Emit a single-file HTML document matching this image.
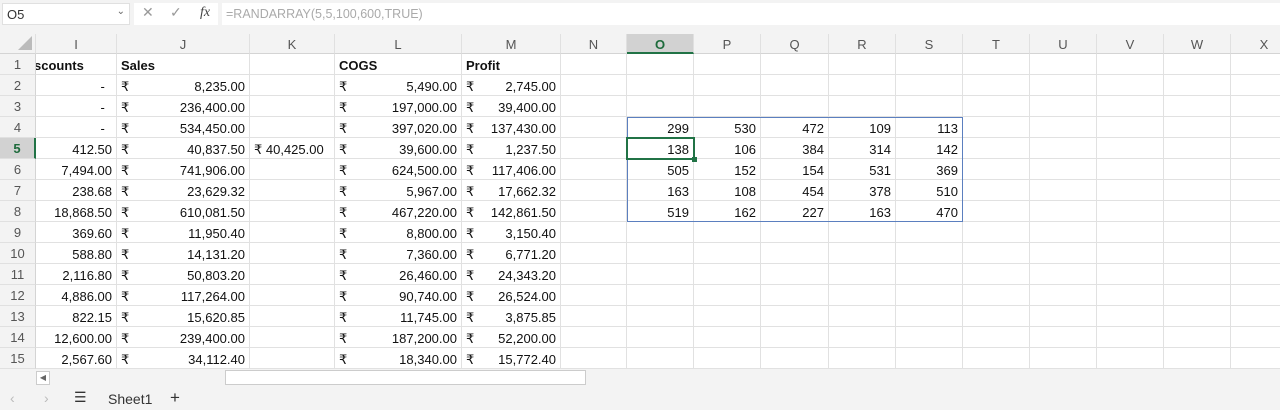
<!DOCTYPE html>
<html><head><meta charset="utf-8">
<style>
*{box-sizing:border-box;margin:0;padding:0}
body{width:1280px;height:410px;overflow:hidden;background:#fff;font-family:"Liberation Sans",sans-serif;position:relative;color:#222}
.abs{position:absolute}
.fb{left:0;top:0;width:1280px;height:34px;background:#f3f3f3}
.nb{left:2px;top:3px;width:128px;height:22px;background:#fff;border:1px solid #e0e0e0;font-size:13px;padding:3px 4px;color:#333}
.fx{left:134px;top:3px;width:84px;height:22px;background:#fff;font-size:14px;color:#999}
.fin{left:222px;top:3px;width:1058px;height:22px;background:#fff;font-size:12.5px;color:#aaa;padding:4px 4px}
.ch{top:34px;height:20px;background:#f3f3f3;border-right:1px solid #e0e0e0;border-bottom:1px solid #d4d4d4;font-size:13px;color:#555;text-align:center;line-height:21px}
.rh{left:0;width:36px;height:21px;background:#f3f3f3;border-bottom:1px solid #e0e0e0;border-right:1px solid #d4d4d4;font-size:13px;color:#555;text-align:center;line-height:22px}
.c{height:21px;border-right:1px solid #e1e1e1;border-bottom:1px solid #e1e1e1;font-size:13px;line-height:23px;padding:0 4px;white-space:nowrap;overflow:hidden;color:#111}
.r{text-align:right}
.b{font-weight:bold}
</style></head><body>
<div class="abs fb"></div>
<div class="abs nb">O5<span style="position:absolute;right:4px;top:2px;font-size:10px;color:#666">⌄</span></div>
<div class="abs fx"><span style="position:absolute;left:8px;top:1px">✕</span><span style="position:absolute;left:36px;top:1px">✓</span><span style="position:absolute;left:66px;top:2px;font-family:'Liberation Serif',serif;font-style:italic;color:#444">fx</span></div>
<div class="abs fin">=RANDARRAY(5,5,100,600,TRUE)</div>
<div id="grid"></div>
<div class="abs" style="left:0;top:369px;width:1280px;height:17px;background:#f3f3f3"></div>
<div class="abs" style="left:36px;top:371px;width:14px;height:14px;background:#fff;border:1px solid #ccc;font-size:8px;color:#666;text-align:center;line-height:12px">◀</div>
<div class="abs" style="left:225px;top:370px;width:361px;height:15px;background:#fff;border:1px solid #ccc"></div>
<div class="abs" style="left:0;top:386px;width:1280px;height:24px;background:#f3f3f3;font-size:14px;color:#333">
<span class="abs" style="left:10px;top:4px;color:#bbb">‹</span>
<span class="abs" style="left:44px;top:4px;color:#bbb">›</span>
<span class="abs" style="left:74px;top:3px">☰</span>
<span class="abs" style="left:108px;top:5px">Sheet1</span>
<span class="abs" style="left:170px;top:2px;font-size:17px">+</span>
</div>
<script>
const colNames=["I","J","K","L","M","N","O","P","Q","R","S","T","U","V","W","X"];
const colX=[36,117,250,335,462,561,627,694,761,829,896,963,1030,1097,1164,1231,1298];
const discounts=["-","-","-","412.50","7,494.00","238.68","18,868.50","369.60","588.80","2,116.80","4,886.00","822.15","12,600.00","2,567.60"];
const sales=["8,235.00","236,400.00","534,450.00","40,837.50","741,906.00","23,629.32","610,081.50","11,950.40","14,131.20","50,803.20","117,264.00","15,620.85","239,400.00","34,112.40"];
const cogs=["5,490.00","197,000.00","397,020.00","39,600.00","624,500.00","5,967.00","467,220.00","8,800.00","7,360.00","26,460.00","90,740.00","11,745.00","187,200.00","18,340.00"];
const profit=["2,745.00","39,400.00","137,430.00","1,237.50","117,406.00","17,662.32","142,861.50","3,150.40","6,771.20","24,343.20","26,524.00","3,875.85","52,200.00","15,772.40"];
const randArr=[[299,530,472,109,113],[138,106,384,314,142],[505,152,154,531,369],[163,108,454,378,510],[519,162,227,163,470]];
const g=document.getElementById('grid');
function mk(cls,l,t,w,txt,name,inter){const d=document.createElement('div');d.className='abs '+cls;d.style.left=l+'px';d.style.top=t+'px';d.style.width=w+'px';d.innerHTML=txt;


g.appendChild(d);return d;}
const corner=mk('ch',0,34,36,'<span style="position:absolute;right:3px;bottom:3px;width:0;height:0;border-left:14px solid transparent;border-bottom:14px solid #bbb"></span>','select-all-corner',true);
for(let i=0;i<colNames.length;i++){const d=mk('ch',colX[i],34,colX[i+1]-colX[i],colNames[i],'column-header-'+colNames[i].toLowerCase(),true);
if(colNames[i]==='O'){d.style.background='#d2d2d2';d.style.color='#1e6b3c';d.style.fontWeight='bold';d.style.borderBottom='2px solid #217346';}}
for(let r=1;r<=15;r++){const t=54+(r-1)*21;const d=mk('rh',0,t,36,r,'row-header-'+r,true);
if(r===5){d.style.background='#d2d2d2';d.style.color='#1e6b3c';d.style.fontWeight='bold';d.style.borderRight='2px solid #217346';}
for(let i=0;i<colNames.length;i++){let txt='',cls='c',ci=colNames[i];
if(r===1){if(ci==='I'){txt='<span style="margin-left:-6px">scounts</span>';}if(ci==='J')txt='Sales';if(ci==='L')txt='COGS';if(ci==='M')txt='Profit';cls+=' b';}
else{const k=r-2;
if(ci==='I'){txt=discounts[k]+(discounts[k]==='-'?'&nbsp;&nbsp;':'');cls+=' r';}
if(ci==='J'||ci==='L'||ci==='M'){const v=ci==='J'?sales[k]:ci==='L'?cogs[k]:profit[k];txt='<span style="float:left">₹</span>'+v;cls+=' r';}
if(ci==='K'&&r===5){txt='₹ 40,425.00';}}
if(r>=4&&r<=8){const oi=i-6;if(oi>=0&&oi<5){txt=randArr[r-4][oi];cls+=' r';}}
mk(cls,colX[i],t,colX[i+1]-colX[i],txt,'cell-'+ci.toLowerCase()+r,true);}}
const sp=mk('',627,117,336,'','randarray-spill-range',false);sp.style.height='105px';sp.style.border='1px solid #5b7fbf';
const ac=mk('',626,137,69,'','active-cell-o5',true);ac.style.height='23px';ac.style.border='2px solid #217346';
const fh=mk('',692,157,5,'','fill-handle',true);fh.style.height='5px';fh.style.background='#217346';
</script>
</body></html>
